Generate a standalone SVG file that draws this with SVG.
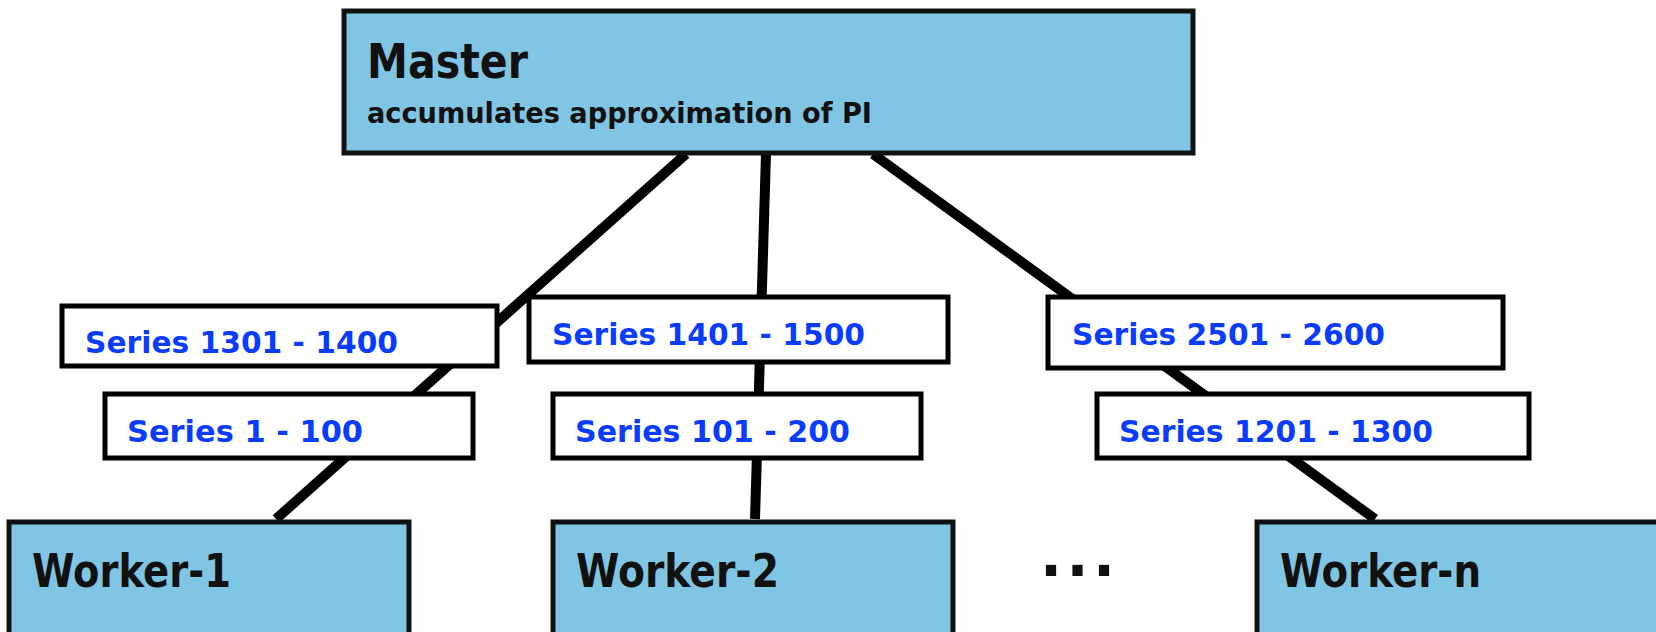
<svg xmlns="http://www.w3.org/2000/svg" width="1656" height="632" viewBox="0 0 1656 632">
  <style>
    .node { fill: #80C6E4; stroke: #111111; stroke-width: 5; }
    .lbl { fill: #FFFFFF; stroke: #000000; stroke-width: 5; }
    .conn { stroke: #000000; stroke-width: 10; stroke-linecap: butt; fill: none; }
    .big { font-family: "Comic Sans MS", "DejaVu Sans", sans-serif; font-weight: bold; fill: #111111; }
    .ser { font-family: "Comic Sans MS", "DejaVu Sans", sans-serif; font-weight: bold; font-size: 30px; fill: #0A3CFF; }
  </style>
  <rect width="1656" height="632" fill="#FFFFFF"/>
  <g id="connectors">
    <line class="conn" x1="686" y1="154" x2="276" y2="519"/>
    <line class="conn" x1="766" y1="154" x2="755" y2="519"/>
    <line class="conn" x1="873" y1="154" x2="1375" y2="519"/>
  </g>
  <g id="master">
    <rect class="node" x="344" y="11" width="849" height="142"/>
    <text class="big" x="367" y="78" font-size="48" textLength="161" lengthAdjust="spacingAndGlyphs">Master</text>
    <text class="big" x="367" y="123" font-size="29" textLength="505" lengthAdjust="spacingAndGlyphs">accumulates approximation of PI</text>
  </g>
  <g id="worker-1">
    <rect class="node" x="9" y="522" width="400" height="130"/>
    <text class="big" x="32" y="587" font-size="46" textLength="199" lengthAdjust="spacingAndGlyphs">Worker-1</text>
  </g>
  <g id="worker-2">
    <rect class="node" x="553" y="522" width="400" height="130"/>
    <text class="big" x="576" y="587" font-size="46" textLength="203" lengthAdjust="spacingAndGlyphs">Worker-2</text>
  </g>
  <g id="worker-n">
    <rect class="node" x="1257" y="522" width="420" height="130"/>
    <text class="big" x="1280" y="587" font-size="46" textLength="201" lengthAdjust="spacingAndGlyphs">Worker-n</text>
  </g>
  <g id="ellipsis">
    <text class="big" x="1040" y="576" font-size="58" letter-spacing="4.5">...</text>
  </g>
  <g id="label-1301-1400">
    <rect class="lbl" x="62" y="306" width="435" height="60"/>
    <text class="ser" x="85" y="353" textLength="313" lengthAdjust="spacingAndGlyphs">Series 1301 - 1400</text>
  </g>
  <g id="label-1-100">
    <rect class="lbl" x="105" y="394" width="368" height="64"/>
    <text class="ser" x="127" y="442" textLength="236" lengthAdjust="spacingAndGlyphs">Series 1 - 100</text>
  </g>
  <g id="label-1401-1500">
    <rect class="lbl" x="529" y="297" width="419" height="65"/>
    <text class="ser" x="552" y="345" textLength="313" lengthAdjust="spacingAndGlyphs">Series 1401 - 1500</text>
  </g>
  <g id="label-101-200">
    <rect class="lbl" x="553" y="394" width="368" height="64"/>
    <text class="ser" x="575" y="442" textLength="275" lengthAdjust="spacingAndGlyphs">Series 101 - 200</text>
  </g>
  <g id="label-2501-2600">
    <rect class="lbl" x="1048" y="297" width="455" height="71"/>
    <text class="ser" x="1072" y="345" textLength="313" lengthAdjust="spacingAndGlyphs">Series 2501 - 2600</text>
  </g>
  <g id="label-1201-1300">
    <rect class="lbl" x="1097" y="394" width="432" height="64"/>
    <text class="ser" x="1119" y="442" textLength="314" lengthAdjust="spacingAndGlyphs">Series 1201 - 1300</text>
  </g>
</svg>
